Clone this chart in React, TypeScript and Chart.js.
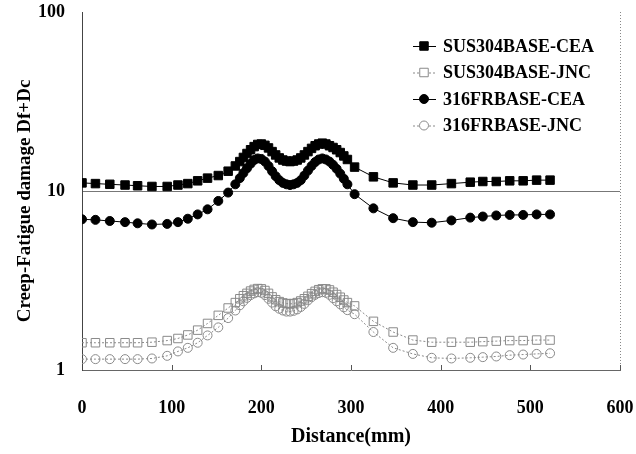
import React, { useEffect, useRef } from "react";
import { Chart, registerables } from "chart.js";
Chart.register(...registerables);

const distance = [
  0, 15, 31, 48, 62, 78, 95, 107, 118, 129, 140, 152, 163, 171,
  176, 180, 184, 188, 192, 196, 200, 204, 208, 212, 216, 220, 224, 228, 232, 236,
  240, 244, 248, 252, 256, 260, 264, 268, 272, 276, 280, 284, 288, 292, 296,
  304, 325, 347, 369, 390, 412, 433, 447, 462, 477, 492, 507, 522,
];

const sus304Cea = [
  11.1, 11.0, 10.9, 10.8, 10.7, 10.6, 10.6, 10.8, 11.0, 11.4, 11.8, 12.2, 12.9, 13.8,
  14.6, 15.4, 16.2, 17.0, 17.7, 18.2, 18.3, 18.0, 17.4, 16.6, 15.9, 15.3, 14.9, 14.7, 14.6, 14.7,
  14.9, 15.3, 15.9, 16.6, 17.3, 17.9, 18.3, 18.5, 18.3, 17.9, 17.5, 17.0, 16.4, 15.7, 15.0,
  13.6, 12.0, 11.1, 10.8, 10.8, 11.0, 11.2, 11.3, 11.3, 11.4, 11.4, 11.5, 11.5,
];

const sus304Jnc = [
  1.42, 1.42, 1.42, 1.42, 1.42, 1.43, 1.46, 1.5, 1.57, 1.67, 1.82, 2.02, 2.22, 2.38,
  2.5, 2.6, 2.68, 2.76, 2.82, 2.85, 2.84, 2.78, 2.68, 2.56, 2.47, 2.41, 2.37, 2.35, 2.34, 2.35,
  2.38, 2.43, 2.5, 2.58, 2.67, 2.75, 2.81, 2.84, 2.84, 2.8, 2.72, 2.64, 2.55, 2.46, 2.38,
  2.28, 1.87, 1.63, 1.47, 1.43, 1.43, 1.43, 1.44, 1.45, 1.46, 1.46, 1.47, 1.47,
];

const fr316Cea = [
  6.95, 6.9, 6.8, 6.7, 6.6, 6.5, 6.55, 6.7, 7.0, 7.4, 7.9, 8.8, 9.8, 10.9,
  11.8, 12.6, 13.4, 14.2, 14.9, 15.2, 15.1, 14.6, 13.8, 12.9, 12.1, 11.5, 11.1, 10.9, 10.8, 10.9,
  11.1, 11.5, 12.2, 13.0, 13.8, 14.5, 15.0, 15.2, 15.0, 14.6, 14.0, 13.3, 12.5, 11.7, 10.9,
  9.6, 8.0, 7.05, 6.7, 6.65, 6.85, 7.1, 7.2, 7.3, 7.35, 7.35, 7.4, 7.4,
];

const fr316Jnc = [
  1.15, 1.15, 1.15, 1.15, 1.15, 1.16, 1.2, 1.27, 1.33, 1.42, 1.56, 1.73, 1.95, 2.15,
  2.3, 2.42, 2.53, 2.62, 2.68, 2.72, 2.7, 2.62, 2.5, 2.38, 2.27, 2.2, 2.15, 2.12, 2.12, 2.14,
  2.18, 2.25, 2.34, 2.45, 2.55, 2.63, 2.69, 2.72, 2.7, 2.63, 2.52, 2.42, 2.33, 2.24, 2.16,
  2.05, 1.63, 1.33, 1.23, 1.17, 1.16, 1.17, 1.18, 1.19, 1.21, 1.22, 1.23, 1.24,
];

const seriesLabels = ["SUS304BASE-CEA", "SUS304BASE-JNC", "316FRBASE-CEA", "316FRBASE-JNC"];
const xTickValues = [0, 100, 200, 300, 400, 500, 600];
const yTickValues = [1, 10, 100];
const xTitle = "Distance(mm)";
const yTitle = "Creep-Fatigue damage Df+Dc";

const FONT = '"Liberation Serif", "Times New Roman", serif';

export default function App() {
  const ref = useRef<HTMLCanvasElement>(null);

  useEffect(() => {
    document.body.style.margin = "0";
    const canvas = ref.current;
    if (!canvas) return;
    const mk = (vals: number[]) => distance.map((x, i) => ({ x, y: vals[i] }));

    const styles = [
      { color: "#000", fill: "#000", open: false, style: "rect", r: 6, dash: [] as number[] },
      { color: "#8a8a8a", fill: "rgba(255,255,255,0)", open: true, style: "rect", r: 6, dash: [2, 2] },
      { color: "#000", fill: "#000", open: false, style: "circle", r: 4.5, dash: [] as number[] },
      { color: "#8a8a8a", fill: "rgba(255,255,255,0)", open: true, style: "circle", r: 4.5, dash: [2, 2] },
    ];
    const values = [sus304Cea, sus304Jnc, fr316Cea, fr316Jnc];

    const zeroPad = (s: any) => {
      s.paddingTop = 0;
      s.paddingBottom = 0;
      s.paddingLeft = 0;
      s.paddingRight = 0;
    };

    const decor = {
      id: "decor",
      afterDraw(chart: any) {
        const ctx = chart.ctx as CanvasRenderingContext2D;
        const { left, right, top, bottom } = chart.chartArea;
        const xs = chart.scales.x;
        ctx.save();
        // right dotted border
        ctx.strokeStyle = "#888";
        ctx.lineWidth = 1;
        ctx.setLineDash([1, 2]);
        ctx.beginPath();
        ctx.moveTo(right + 0.5, top);
        ctx.lineTo(right + 0.5, bottom);
        ctx.stroke();
        ctx.setLineDash([]);
        // inner ticks on x axis
        ctx.strokeStyle = "#555";
        for (const v of xTickValues) {
          if (v === 0) continue;
          const px = Math.round(xs.getPixelForValue(v)) + 0.5;
          ctx.beginPath();
          ctx.moveTo(px, bottom);
          ctx.lineTo(px, bottom - 5);
          ctx.stroke();
        }
        // legend
        ctx.font = `bold 18px ${FONT}`;
        ctx.textBaseline = "middle";
        ctx.textAlign = "left";
        seriesLabels.forEach((lab, i) => {
          const st = styles[i];
          const y = 46 + 26.5 * i;
          ctx.strokeStyle = st.color;
          ctx.setLineDash(st.dash);
          ctx.beginPath();
          ctx.moveTo(413, y + 0.5);
          ctx.lineTo(436, y + 0.5);
          ctx.stroke();
          ctx.setLineDash([]);
          const cx = 424;
          ctx.beginPath();
          if (st.style === "rect") {
            const s = st.r * Math.SQRT1_2;
            ctx.rect(cx - s, y - s, 2 * s, 2 * s);
          } else {
            ctx.arc(cx, y, st.r, 0, Math.PI * 2);
          }
          ctx.fillStyle = st.open ? "#fff" : st.fill;
          ctx.fill();
          ctx.stroke();
          ctx.fillStyle = "#000";
          ctx.fillText(lab, 443, y + 1);
        });
        // axis titles
        ctx.fillStyle = "#000";
        ctx.font = `bold 20px ${FONT}`;
        ctx.textAlign = "center";
        ctx.textBaseline = "middle";
        ctx.fillText(xTitle, (left + right) / 2, 437);
        ctx.font = `bold 19px ${FONT}`;
        ctx.translate(25, 201);
        ctx.rotate(-Math.PI / 2);
        ctx.fillText(yTitle, 0, 0);
        ctx.restore();
      },
    };

    const chart = new Chart(canvas, {
      type: "line",
      data: {
        datasets: seriesLabels.map((label, i) => ({
          label,
          data: mk(values[i]),
          borderColor: styles[i].color,
          borderWidth: 1,
          borderDash: styles[i].dash,
          pointStyle: styles[i].style as any,
          pointRadius: styles[i].r,
          pointBackgroundColor: styles[i].fill,
          pointBorderColor: styles[i].color,
          pointBorderWidth: 1,
          tension: 0,
          fill: false,
        })),
      },
      options: {
        animation: false,
        responsive: false,
        maintainAspectRatio: false,
        layout: { padding: { top: 12, right: 16, left: 0, bottom: 0 } },
        plugins: { legend: { display: false }, tooltip: { enabled: false } },
        scales: {
          x: {
            type: "linear",
            min: 0,
            max: 600,
            afterBuildTicks: (ax: any) => {
              ax.ticks = xTickValues.map((v) => ({ value: v }));
            },
            afterFit: (s: any) => {
              s.height = 84;
              zeroPad(s);
            },
            grid: { display: false, drawTicks: false },
            border: { display: true, color: "#666", width: 1 },
            ticks: {
              font: { family: FONT, size: 18, weight: "bold" },
              color: "#000",
              padding: 28,
              maxRotation: 0,
              autoSkip: false,
              callback: (v: any) => String(v),
            },
          },
          y: {
            type: "logarithmic",
            min: 1,
            max: 100,
            afterBuildTicks: (ax: any) => {
              ax.ticks = yTickValues.map((v) => ({ value: v }));
            },
            afterFit: (s: any) => {
              s.width = 82;
              zeroPad(s);
            },
            grid: {
              drawTicks: false,
              color: (c: any) => (c.tick && c.tick.value === 10 ? "#777" : "rgba(0,0,0,0)"),
            },
            border: { display: true, color: "#444", width: 1 },
            ticks: {
              font: { family: FONT, size: 18, weight: "bold" },
              color: "#000",
              padding: 17,
              autoSkip: false,
              callback: (v: any) => String(v),
            },
          },
        },
      },
      plugins: [decor],
    });
    return () => chart.destroy();
  }, []);

  return (
    <div style={{ position: "absolute", left: 0, top: 0, width: 636, height: 454, background: "#fff" }}>
      <canvas ref={ref} width={636} height={454} style={{ display: "block", width: 636, height: 454 }} />
    </div>
  );
}
